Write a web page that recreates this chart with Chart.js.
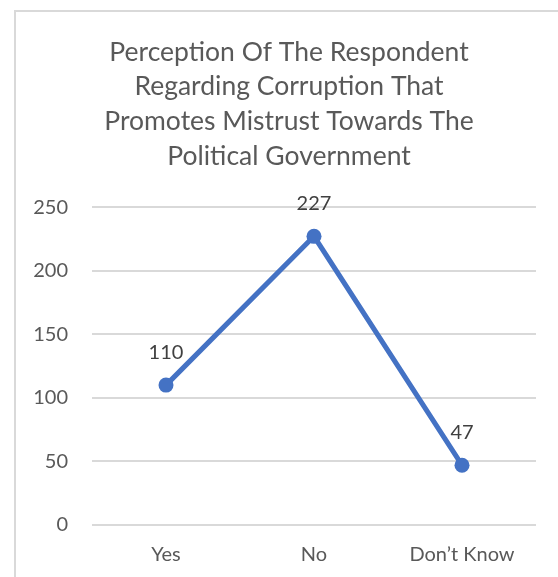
<!DOCTYPE html>
<html>
<head>
<meta charset="utf-8">
<script src="https://cdn.jsdelivr.net/npm/chart.js@4.4.1/dist/chart.umd.min.js"></script>
<style>
  html, body { margin: 0; padding: 0; background: #ffffff; }
  #wrap { position: relative; width: 558px; height: 577px; overflow: hidden; }
</style>
</head>
<body>
<div id="wrap"><canvas id="chart" width="558" height="577"></canvas></div>
<script>
// Survey answers and respondent counts
const categories = ['Yes', 'No', 'Don\u2019t Know'];
const respondents = [110, 227, 47];
const yTicks = [0, 50, 100, 150, 200, 250];
const titleLines = [
  'Perception Of The Respondent',
  'Regarding Corruption That',
  'Promotes Mistrust Towards The',
  'Political Government'
];

const FONT = 'Lato, "Open Sans", sans-serif';
const TEXT = '#595959';
const TITLE_SIZE = 26.5;
const TITLE_LINE = 34.67;

// Light frame around the chart object
const framePlugin = {
  id: 'frame',
  beforeDraw(chart) {
    const c = chart.ctx;
    c.save();
    c.strokeStyle = '#d9d9d9';
    c.lineWidth = 2;
    c.strokeRect(15, 11, 700, 700);
    c.restore();
  }
};

// Value labels above each point
const valueLabels = {
  id: 'valueLabels',
  afterDatasetsDraw(chart) {
    const c = chart.ctx;
    const meta = chart.getDatasetMeta(0);
    c.save();
    c.font = '20px ' + FONT;
    c.fillStyle = '#404040';
    c.textAlign = 'center';
    c.textBaseline = 'middle';
    meta.data.forEach((pt, i) => {
      c.fillText(String(chart.data.datasets[0].data[i]), pt.x, pt.y - 32.5);
    });
    c.restore();
  }
};

new Chart(document.getElementById('chart'), {
  type: 'line',
  data: {
    labels: categories,
    datasets: [{
      data: respondents,
      borderColor: '#4472C4',
      backgroundColor: '#4472C4',
      borderWidth: 5,
      pointRadius: 7.5,
      pointHoverRadius: 7.5,
      pointBorderWidth: 0,
      tension: 0
    }]
  },
  options: {
    responsive: false,
    animation: false,
    events: [],
    layout: { padding: { left: 20, right: 0, top: 0, bottom: 0 } },
    plugins: {
      legend: { display: false },
      tooltip: { enabled: false },
      title: {
        display: true,
        text: titleLines,
        color: TEXT,
        font: { family: FONT, size: TITLE_SIZE, weight: 'normal', lineHeight: TITLE_LINE / TITLE_SIZE },
        padding: { top: 34.7, bottom: 33.7 }
      }
    },
    scales: {
      x: {
        offset: true,
        grid: { display: false, drawTicks: false },
        border: { display: false },
        ticks: { color: TEXT, font: { family: FONT, size: 20 }, padding: 17.5, maxRotation: 0 },
        afterFit(scale) { scale.height = 52; }
      },
      y: {
        min: 0,
        max: 250,
        afterBuildTicks(scale) { scale.ticks = yTicks.map(v => ({ value: v })); },
        grid: { color: '#d9d9d9', lineWidth: 2, drawTicks: false },
        border: { display: false },
        ticks: { color: TEXT, font: { family: FONT, size: 20 }, padding: 24 },
        afterFit(scale) { scale.width = 72; }
      },
      // empty right-hand spacer keeping the plot clear of the frame edge
      yRight: {
        position: 'right',
        display: true,
        grid: { display: false, drawTicks: false },
        border: { display: false },
        ticks: { display: false },
        afterFit(scale) { scale.width = 22; }
      }
    }
  },
  plugins: [framePlugin, valueLabels]
});
</script>
</body>
</html>
